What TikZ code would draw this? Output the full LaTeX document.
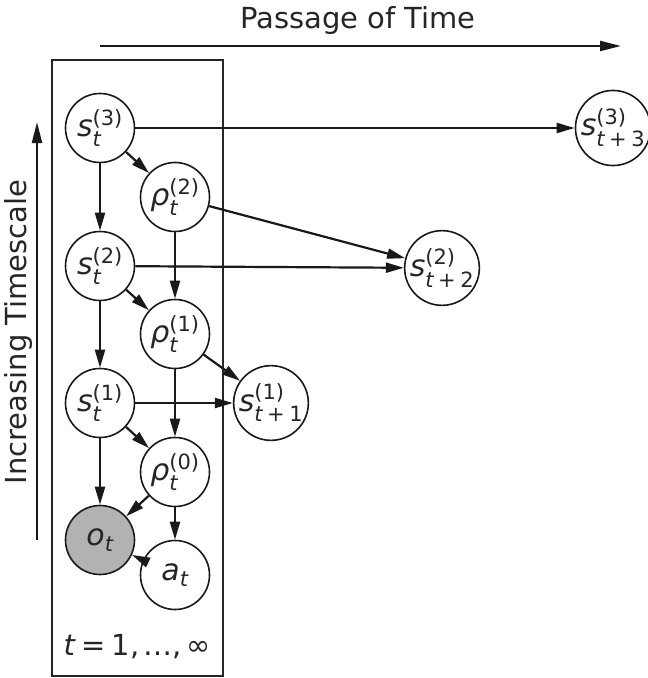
\documentclass[tikz,border=0pt]{standalone}
\usepackage{amsmath}
\usepackage{fontspec}
\setmainfont{DejaVu Sans}
\usetikzlibrary{arrows.meta}

% variable with superscript level and subscript time index
\newcommand{\var}[3]{$\text{\itshape #1}^{\text{#3}}_{\text{#2}}$}
\newcommand{\tplus}[1]{\text{\itshape t}\:\text{+}\:\text{#1}}

\begin{document}
\begin{tikzpicture}[x=1bp,y=-1bp,
  var/.style={circle,draw=black!90,line width=1.6bp,fill=white,minimum size=69bp,inner sep=0pt,
    font=\fontsize{30bp}{34bp}\selectfont,text=black!85},
  obs/.style={var,fill=black!30},
  edge/.style={line width=2.2bp,draw=black!90,-{Triangle[length=18bp,width=10bp]}},
  axis/.style={line width=2.2bp,draw=black!90,-{Triangle[length=21bp,width=10bp]}},
  label/.style={font=\fontsize{29bp}{33bp}\selectfont,text=black!85}]
\useasboundingbox (0,0) rectangle (648,678);

% plate
\draw[line width=1.6bp,black!85] (52,60) rectangle (223,676);
\node[label] (plate) at (137,647) {\textit{t}\hspace{0.2em}=\hspace{0.2em}1,\hspace{0.15em}…,\hspace{0.15em}∞};

% axes
\coordinate (tA) at (100,46);
\coordinate (tB) at (621,46);
\draw[axis] (tA) -- (tB);
\node[label] (ttime) at (358,21) {Passage of Time};
\coordinate (sA) at (37,540);
\coordinate (sB) at (37,122);
\draw[axis] (sA) -- (sB);
\node[label,rotate=90] (tscale) at (18,332) {Increasing Timescale};

% nodes
\node[var] (s3) at (100,128) {\var{s}{\itshape t}{(3)}};
\node[var] (r2) at (175,197) {\var{ρ}{\itshape t}{(2)}};
\node[var] (s2) at (100,266) {\var{s}{\itshape t}{(2)}};
\node[var] (r1) at (175,334) {\var{ρ}{\itshape t}{(1)}};
\node[var] (s1) at (100,403) {\var{s}{\itshape t}{(1)}};
\node[var] (r0) at (175,472) {\var{ρ}{\itshape t}{(0)}};
\node[obs] (o) at (100,540) {\textit{o}$_{\text{\itshape t}}$};
\node[var] (a) at (175,575) {\textit{a}$_{\text{\itshape t}}$};
\node[var] (n1) at (271,403) {$\text{\itshape s}^{\text{(1)}}_{\tplus{1}}$};
\node[var] (n2) at (442,268) {$\text{\itshape s}^{\text{(2)}}_{\tplus{2}}$};
\node[var] (n3) at (613,128) {$\text{\itshape s}^{\text{(3)}}_{\tplus{3}}$};

% connectors
\draw[edge] (s3) -- (r2);
\draw[edge] (s3) -- (s2);
\draw[edge] (s3) -- (n3);
\draw[edge] (r2) -- (r1);
\draw[edge] (r2) -- (n2);
\draw[edge] (s2) -- (n2);
\draw[edge] (s2) -- (r1);
\draw[edge] (s2) -- (s1);
\draw[edge] (r1) -- (n1);
\draw[edge] (r1) -- (r0);
\draw[edge] (s1) -- (n1);
\draw[edge] (s1) -- (r0);
\draw[edge] (s1) -- (o);
\draw[edge] (r0) -- (o);
\draw[edge] (r0) -- (a);
\draw[edge] (a) -- (o);
\end{tikzpicture}
\end{document}
